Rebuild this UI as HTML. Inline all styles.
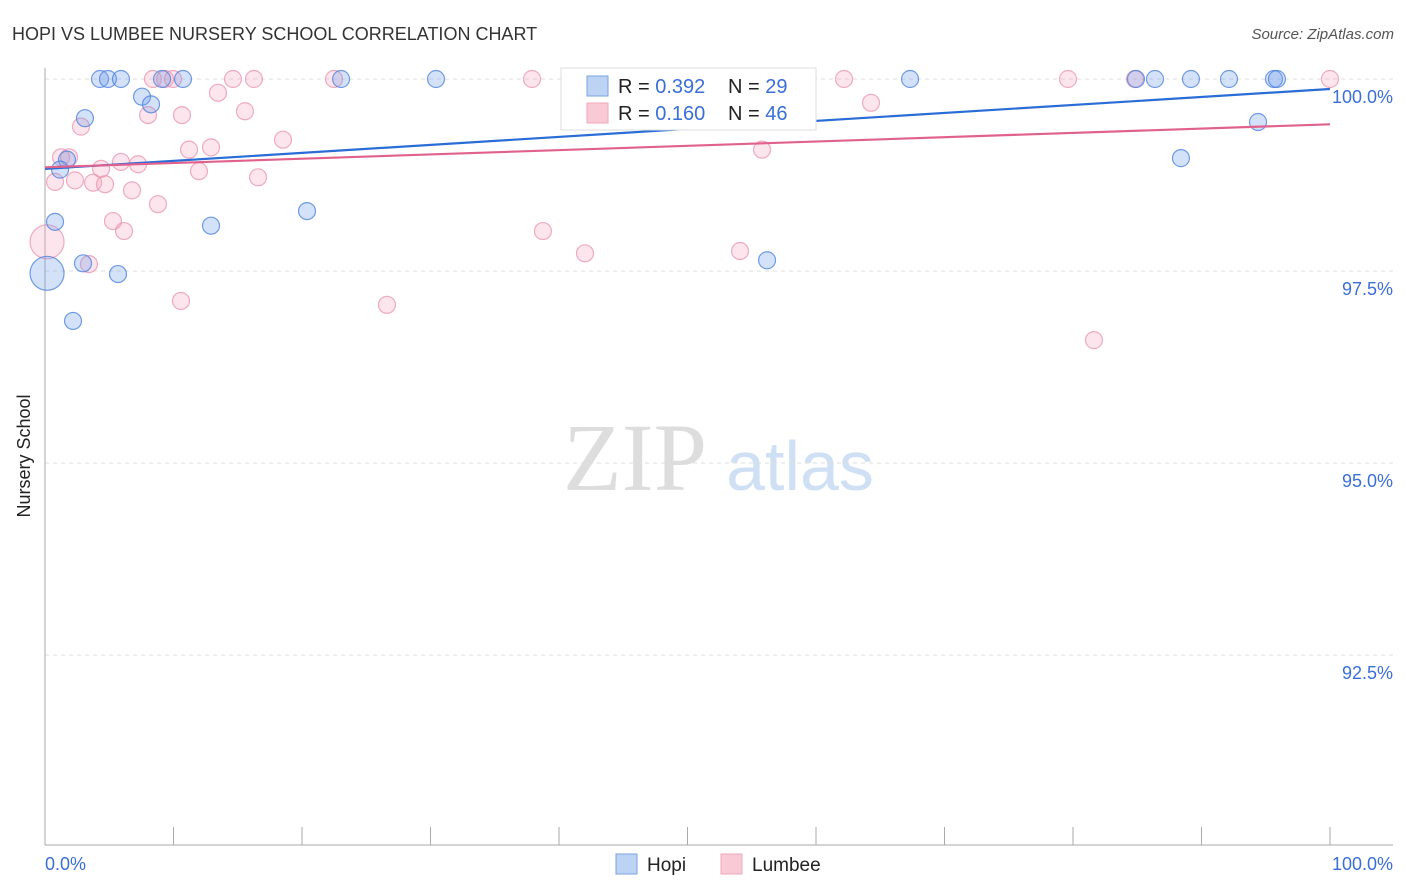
<!DOCTYPE html>
<html><head><meta charset="utf-8"><style>
body{margin:0;background:#fff;font-family:"Liberation Sans",sans-serif}
svg{display:block}
</style></head><body>
<svg width="1406" height="892" id="chart">
<text x="12" y="40" font-size="18" fill="#333">HOPI VS LUMBEE NURSERY SCHOOL CORRELATION CHART</text>
<text x="1394" y="39" font-size="15" fill="#555" font-style="italic" text-anchor="end">Source: ZipAtlas.com</text>
<text x="30" y="456" font-size="18" fill="#222" text-anchor="middle" transform="rotate(-90 30 456)">Nursery School</text>
<g><text x="635" y="490" font-size="96" fill="#ddd" font-family="Liberation Serif,serif" text-anchor="middle">ZIP</text><text x="800" y="490" font-size="70" fill="#cfe0f4" text-anchor="middle">atlas</text></g>
<g id="grid"></g><g id="pts"></g><g id="lines"></g>
<g>
<rect x="561" y="68" width="255" height="62" fill="#fff" stroke="#ddd"/>
<rect x="587" y="76" width="21" height="20" fill="#bcd3f3" stroke="#7aa3e0"/>
<rect x="587" y="103" width="21" height="20" fill="#f9c9d6" stroke="#eeaabb"/>
<text x="618" y="93" font-size="20" fill="#222">R = <tspan fill="#3a6fd8">0.392</tspan></text>
<text x="728" y="93" font-size="20" fill="#222">N = <tspan fill="#3a6fd8">29</tspan></text>
<text x="618" y="120" font-size="20" fill="#222">R = <tspan fill="#3a6fd8">0.160</tspan></text>
<text x="728" y="120" font-size="20" fill="#222">N = <tspan fill="#3a6fd8">46</tspan></text>
</g>
<g>
<rect x="616" y="854" width="21" height="20" fill="#bcd3f3" stroke="#7aa3e0"/>
<text x="647" y="871" font-size="19" fill="#222">Hopi</text>
<rect x="721" y="854" width="21" height="20" fill="#f9c9d6" stroke="#eeaabb"/>
<text x="752" y="871" font-size="19" fill="#222">Lumbee</text>
</g>
<text x="45" y="870" font-size="18" fill="#3a6fd8">0.0%</text>
<text x="1393" y="870" font-size="18" fill="#3a6fd8" text-anchor="end">100.0%</text>
</svg>
<script>
const yTicks=[100,97.5,95,92.5];
const yTickLabels=["100.0%","97.5%","95.0%","92.5%"];
const hopiX=[4.28,4.90,5.91,9.11,10.74,23.04,30.43,67.32,84.90,86.38,89.18,92.14,95.64,95.87,7.55,8.25,3.11,1.71,1.17,0.78,12.92,20.39,88.40,94.40,2.96,5.68,56.19,2.18,0.16];
const hopiY=[100,100,100,100,100,100,100,100,100,100,100,100,100,100,99.77,99.67,99.49,98.95,98.82,98.14,98.09,98.28,98.97,99.44,97.60,97.46,97.64,96.85,97.47];
const lumX=[8.40,9.34,9.96,22.49,14.63,16.26,37.90,62.18,79.61,84.82,100,48.48,54.09,13.46,15.56,8.02,10.66,64.28,2.80,18.52,11.21,12.92,55.80,1.25,1.87,5.91,7.24,4.36,11.98,0.78,2.33,3.74,4.67,16.58,6.77,8.79,5.29,6.15,38.75,42.02,54.09,3.42,10.58,26.61,81.63,0.16];
const lumY=[100,100,100,100,100,100,100,100,100,100,100,100,100,99.82,99.58,99.53,99.53,99.69,99.38,99.21,99.08,99.11,99.08,98.98,98.98,98.92,98.89,98.83,98.80,98.66,98.68,98.65,98.63,98.72,98.55,98.37,98.15,98.02,98.02,97.73,97.76,97.59,97.11,97.06,96.60,97.88];
const hopiTrend=[98.83,99.87];
const lumTrend=[98.85,99.41];
const NS="http://www.w3.org/2000/svg";
const X=v=>45+v*12.85, Y=v=>79+(100-v)*76.8;
function mk(t,a,p){const e=document.createElementNS(NS,t);for(const k in a)e.setAttribute(k,a[k]);p.appendChild(e);return e;}
const grid=document.getElementById('grid');
yTicks.forEach((t,i)=>{
 const l=mk('line',{x1:45,x2:1393,y1:Y(t),y2:Y(t),stroke:'#ddd','stroke-dasharray':'4 4'},grid);
 
 
 const tx=mk('text',{x:1393,y:Y(t)+24,'font-size':18,fill:'#3a6fd8','text-anchor':'end'},grid);
 tx.textContent=yTickLabels[i];
 
 
});
const ax=mk('line',{x1:45,x2:45,y1:68,y2:845,stroke:'#aaa'},grid);


const bx=mk('line',{x1:45,x2:1393,y1:845,y2:845,stroke:'#aaa'},grid);


for(let k=0;k<=10;k++){const t=mk('line',{x1:X(k*10),x2:X(k*10),y1:827,y2:845,stroke:'#aaa'},grid);
 
 }
const pts=document.getElementById('pts');
function series(xs,ys,fill,stroke,name){xs.forEach((x,i)=>{
 const r=(x<0.5)?17:8.5;
 const c=mk('circle',{cx:X(x),cy:Y(ys[i]),r:r,fill:fill,stroke:stroke,'stroke-width':1.2},pts);
 
 });}
series(lumX,lumY,'rgba(244,160,185,0.28)','rgba(232,140,170,0.7)','lumbee-point');
series(hopiX,hopiY,'rgba(110,155,235,0.3)','rgba(70,125,220,0.75)','hopi-point');
const lines=document.getElementById('lines');
const h=mk('line',{x1:X(0),x2:X(100),y1:Y(hopiTrend[0]),y2:Y(hopiTrend[1]),stroke:'#2a6dd6','stroke-width':2.2},lines);


const p=mk('line',{x1:X(0),x2:X(100),y1:Y(lumTrend[0]),y2:Y(lumTrend[1]),stroke:'#e0628c','stroke-width':2.2},lines);


</script>
</body></html>
